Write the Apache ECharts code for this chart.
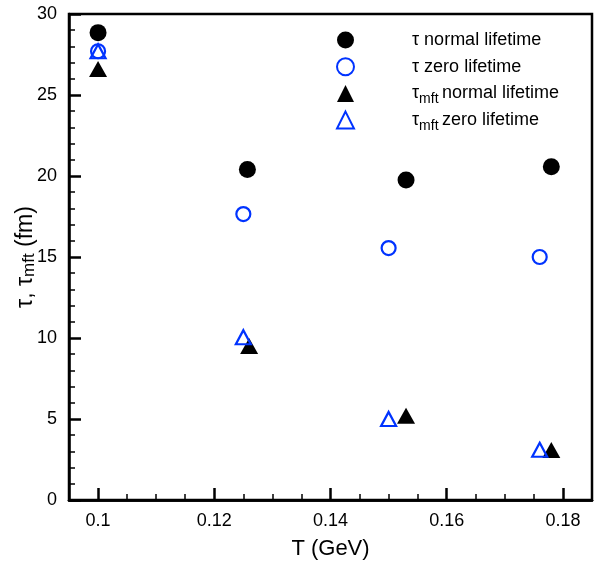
<!DOCTYPE html>
<html>
<head>
<meta charset="utf-8">
<script src="https://cdn.jsdelivr.net/npm/echarts@6/dist/echarts.min.js"></script>
<style>html,body{margin:0;padding:0;background:#fff}#c{width:602px;height:561px}</style>
</head>
<body>
<div id="c"></div>
<script>
// ---- data ----
const T_tauNormal = [0.1, 0.1257, 0.153, 0.178];
const tauNormal   = [28.85, 20.4, 19.75, 20.57];
const T_tauZero   = [0.1, 0.125, 0.15, 0.176];
const tauZero     = [27.7, 17.65, 15.55, 15.0];
const T_mftNormal = [0.1, 0.126, 0.153, 0.178];
const mftNormal   = [26.6, 9.5, 5.2, 3.08];
const T_mftZero   = [0.1, 0.125, 0.15, 0.176];
const mftZero     = [27.7, 10.05, 5.0, 3.1];
const xMajorTicks = [0.1, 0.12, 0.14, 0.16, 0.18];
const xMinorTicks = [0.105, 0.11, 0.115, 0.125, 0.13, 0.135, 0.145, 0.15, 0.155, 0.165, 0.17, 0.175];
const seriesNames = ['τ normal lifetime', 'τ zero lifetime', 'τmft normal lifetime', 'τmft zero lifetime'];

const BLUE = '#0033ff';
const FONT = 'Liberation Sans, Arial, Helvetica, sans-serif';
const zip = (xs, ys) => xs.map((x, i) => [x, ys[i]]);

const chart = echarts.init(document.getElementById('c'), null, {renderer: 'canvas'});
const xBase = {
  type: 'value', min: 0.095, max: 0.185, gridIndex: 0, position: 'bottom',
  splitLine: {show: false},
  axisLine: {show: true, lineStyle: {color: '#000', width: 2.5}}
};
chart.setOption({
  animation: false,
  backgroundColor: '#fff',
  grid: {left: 69, right: 10, top: 14, bottom: 61, show: true, borderColor: '#000', borderWidth: 2.5,
    containLabel: false, outerBoundsMode: 'none'},
  legend: {
    orient: 'vertical', left: 336, top: 25, padding: 0, itemGap: -3.3, itemWidth: 17, itemHeight: 17,
    data: seriesNames,
    formatter: function (name) {
      if (name.indexOf('τmft') === 0) {
        return '{t|τ}{s|mft} {t|' + name.slice(5) + '}';
      }
      return '{t|' + name + '}';
    },
    textStyle: {
      padding: [0, 0, 0, 53],
      rich: {
        t: {fontFamily: FONT, fontSize: 18, color: '#000', lineHeight: 18, padding: [6, 0, 6, 0]},
        s: {fontFamily: FONT, fontSize: 14, color: '#000', lineHeight: 18, padding: [12, 0, 0, 0]}
      }
    }
  },
  xAxis: [
    Object.assign({}, xBase, {
      name: 'T (GeV)', nameLocation: 'middle', nameGap: 38, nameMoveOverlap: false,
      nameTextStyle: {fontFamily: FONT, fontSize: 22, color: '#000'},
      axisTick: {show: true, inside: true, length: 12, customValues: xMajorTicks, lineStyle: {color: '#000', width: 2.5}},
      axisLabel: {show: true, margin: 12, customValues: xMajorTicks, fontFamily: FONT, fontSize: 18, color: '#000',
        formatter: v => String(+v.toFixed(2))}
    }),
    Object.assign({}, xBase, {
      axisTick: {show: true, inside: true, length: 6, customValues: xMinorTicks, lineStyle: {color: '#000', width: 1.5}},
      axisLabel: {show: false}
    })
  ],
  yAxis: {
    type: 'value', min: 0, max: 30, interval: 5,
    name: '{t|τ, τ}{s|mft}{t| (fm)}', nameLocation: 'middle', nameGap: 31, nameRotate: 90, nameMoveOverlap: false,
    nameTextStyle: {
      rich: {
        t: {fontFamily: FONT, fontSize: 23, color: '#000'},
        s: {fontFamily: FONT, fontSize: 17, color: '#000', padding: [8, 0, 0, 0]}
      }
    },
    splitLine: {show: false},
    axisLine: {show: true, lineStyle: {color: '#000', width: 2.5}},
    axisTick: {show: true, inside: true, length: 12, lineStyle: {color: '#000', width: 2.5}},
    minorTick: {show: true, splitNumber: 5, length: 6, lineStyle: {color: '#000', width: 1.5}},
    axisLabel: {margin: 12, fontFamily: FONT, fontSize: 18, color: '#000'}
  },
  series: [
    {name: seriesNames[2], type: 'scatter', symbol: 'triangle', symbolSize: [18, 16], data: zip(T_mftNormal, mftNormal),
      itemStyle: {color: '#000', opacity: 1}},
    {name: seriesNames[0], type: 'scatter', symbol: 'circle', symbolSize: 17, data: zip(T_tauNormal, tauNormal),
      itemStyle: {color: '#000', opacity: 1}},
    {name: seriesNames[1], type: 'scatter', symbol: 'circle', symbolSize: 14, data: zip(T_tauZero, tauZero),
      itemStyle: {color: 'transparent', borderColor: BLUE, borderWidth: 2.2, opacity: 1}},
    {name: seriesNames[3], type: 'scatter', symbol: 'triangle', symbolSize: [15, 14], data: zip(T_mftZero, mftZero),
      itemStyle: {color: 'transparent', borderColor: BLUE, borderWidth: 2.2, opacity: 1}}
  ]
});
</script>
</body>
</html>
